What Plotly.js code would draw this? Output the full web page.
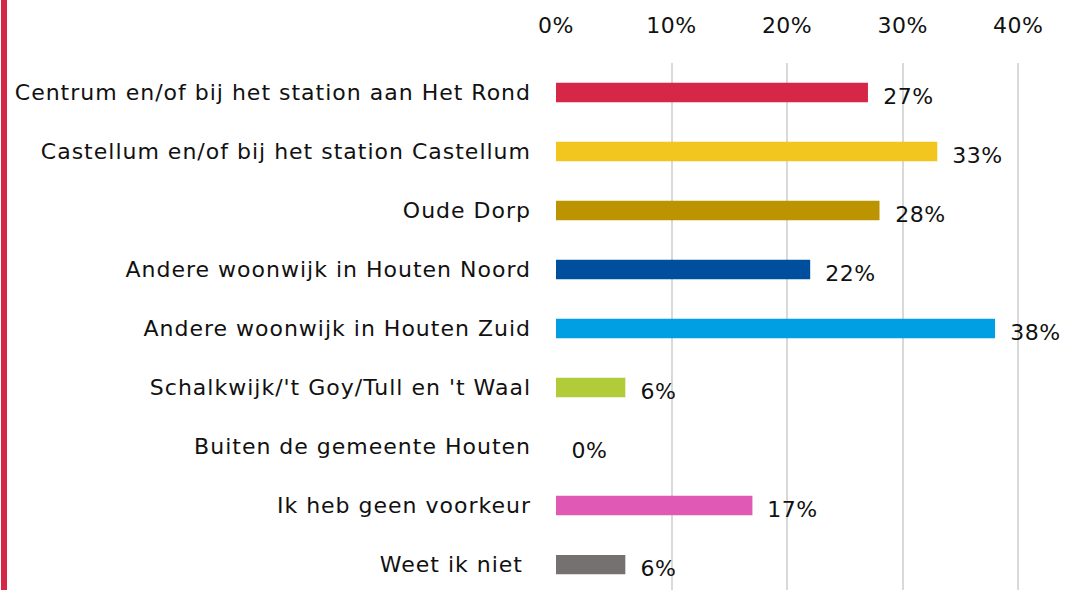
<!DOCTYPE html>
<html><head><meta charset="utf-8">
<script src="https://cdn.plot.ly/plotly-3.0.1.min.js"></script>
<style>html,body{margin:0;padding:0;background:#fff;overflow:hidden}#chart{width:1069px;height:590px}
#chart .ytick text{letter-spacing:1px}
#chart .xtick text, #chart .annotation-text{letter-spacing:0.5px}</style>
</head><body><div id="chart"></div>
<script>
const categories = [
  "Centrum en/of bij het station aan Het Rond",
  "Castellum en/of bij het station Castellum",
  "Oude Dorp",
  "Andere woonwijk in Houten Noord",
  "Andere woonwijk in Houten Zuid",
  "Schalkwijk/'t Goy/Tull en 't Waal",
  "Buiten de gemeente Houten",
  "Ik heb geen voorkeur",
  "Weet ik niet\u00a0"
];
const values = [27, 33, 28, 22, 38, 6, 0, 17, 6];
const valueLabels = ["27%", "33%", "28%", "22%", "38%", "6%", "0%", "17%", "6%"];
const barColors = ["#D62747", "#F2C51F", "#BC9300", "#004F9E", "#009FE3", "#B2CB39", "#888888", "#E05AB5", "#767171"];
const tickVals = [0, 10, 20, 30, 40];
const tickText = ["0%", "10%", "20%", "30%", "40%"];

const FONT = "'DejaVu Sans', Roboto, sans-serif";
const L = 556, R = 0, T = 63, B = 0, W = 1069, H = 590;
const plotW = W - L - R;

const trace = {
  type: "bar", orientation: "h",
  x: values, y: categories,
  marker: {color: barColors},
  width: 0.33,
  hoverinfo: "skip"
};

const annotations = values.map((v, i) => ({
  x: v, y: categories[i], xref: "x", yref: "y",
  text: valueLabels[i], showarrow: false,
  xanchor: "left", yanchor: "middle", xshift: 14, yshift: -4,
  font: {family: FONT, size: 22, color: "#111"}
}));

const layout = {
  width: W, height: H,
  margin: {l: L, r: R, t: T, b: B, pad: 0},
  paper_bgcolor: "#fff", plot_bgcolor: "#fff",
  showlegend: false,
  font: {family: FONT, color: "#111"},
  xaxis: {
    side: "top", range: [0, 44.4], tickvals: tickVals, ticktext: tickText,
    showgrid: true, gridcolor: "#D9D9D9", gridwidth: 2,
    zeroline: false, showline: false, ticks: "",
    ticklabelstandoff: 25,
    tickfont: {family: FONT, size: 22, color: "#111"}
  },
  yaxis: {
    type: "category", range: [8.43, -0.5],
    showgrid: false, zeroline: false, showline: false, ticks: "",
    ticklabelstandoff: 24,
    tickfont: {family: FONT, size: 22, color: "#111"}
  },
  annotations: annotations,
  shapes: [{
    type: "rect", xref: "paper", yref: "paper",
    x0: (1 - L) / plotW, x1: (7 - L) / plotW,
    y0: (0 - B) / (H - T - B), y1: (H - B) / (H - T - B),
    fillcolor: "#D62747", line: {width: 0}, layer: "above"
  }]
};

Plotly.newPlot("chart", [trace], layout, {displayModeBar: false, staticPlot: true});
</script></body></html>
